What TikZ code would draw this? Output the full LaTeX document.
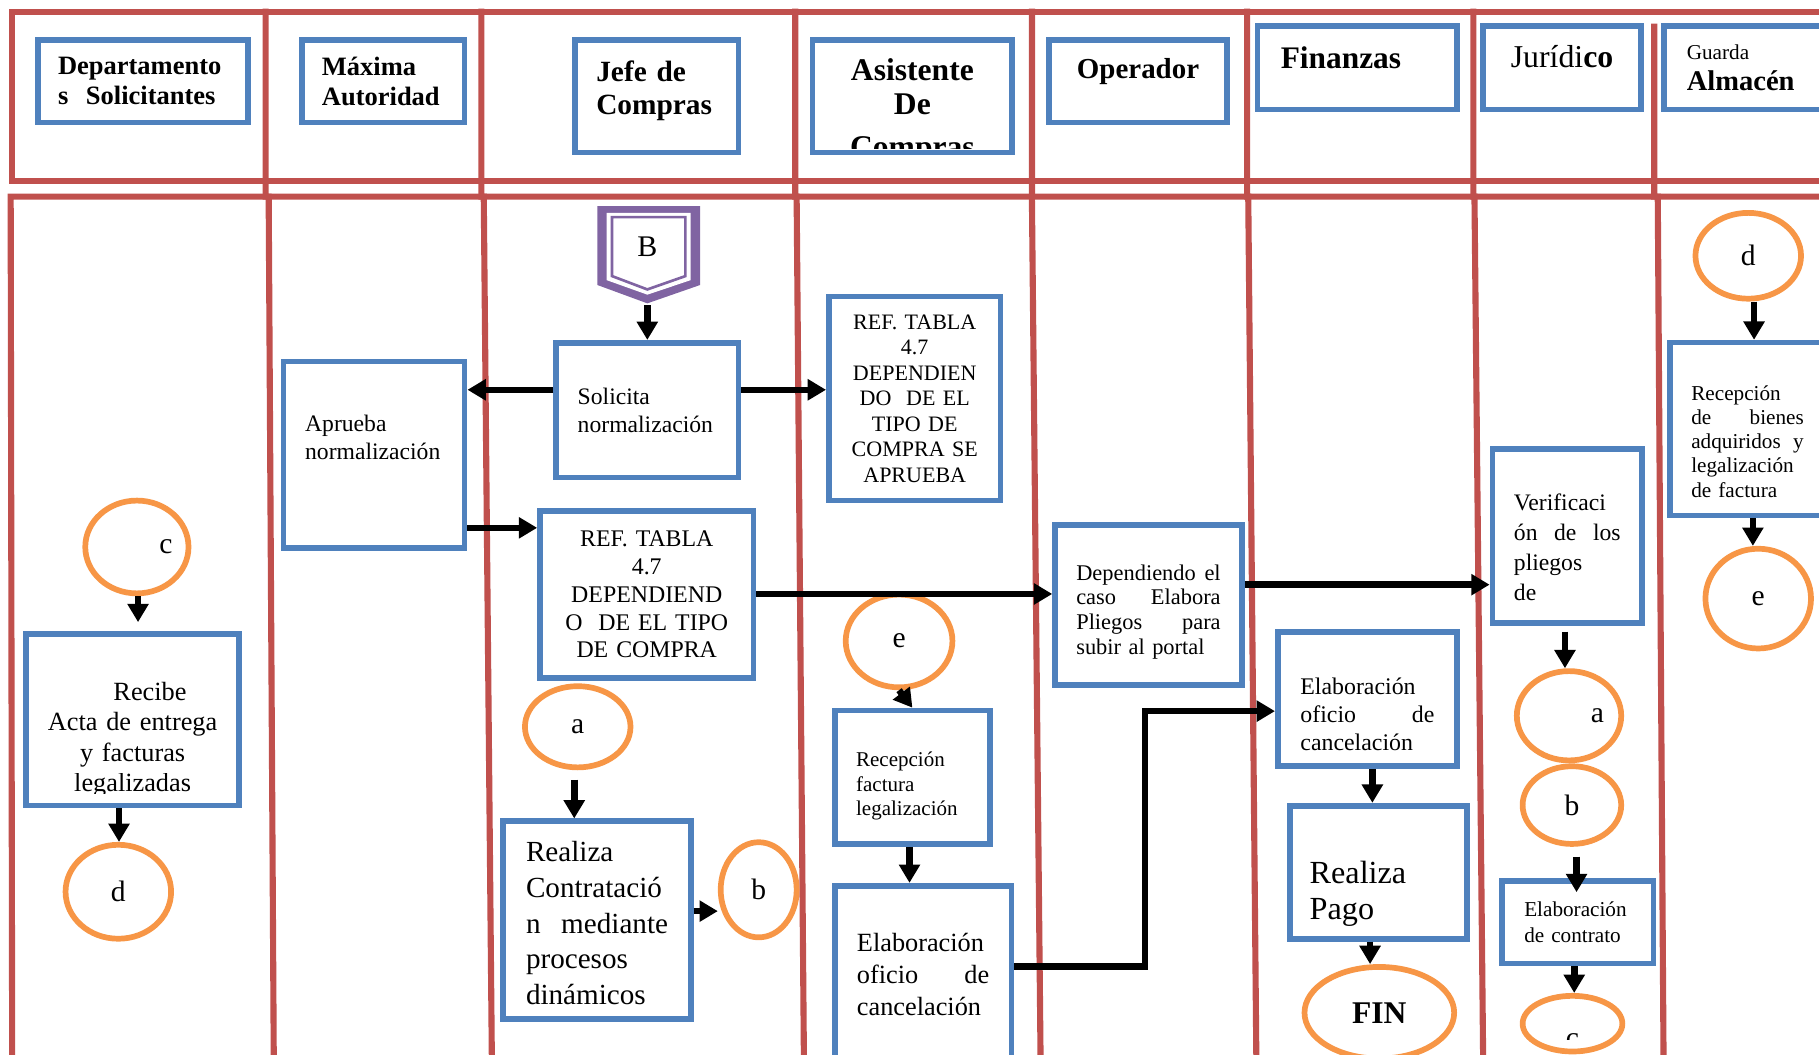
\documentclass[tikz,border=0pt]{standalone}
\usepackage{fontspec}
\setmainfont{Liberation Serif}
\usepackage{trimclip}
\usepackage{xcolor}
\usepackage{tikz}
\usetikzlibrary{shapes.geometric,arrows.meta,positioning,calc}

\definecolor{redC}{HTML}{C0504D}
\definecolor{blueC}{HTML}{4F81BD}
\definecolor{orangeC}{HTML}{F79646}
\definecolor{purpleC}{HTML}{8064A2}
\newcommand{\fsz}[2]{\fontsize{#1}{#2}\selectfont}

\begin{document}
\begin{tikzpicture}[
    x=0.02cm, y=-0.02cm,
    lane/.style={draw=redC, line width=3pt, line cap=rect},
    hdr/.style={rectangle, draw=blueC, fill=white, line width=2.8pt, inner sep=0pt, align=center},
    proc/.style={rectangle, draw=blueC, fill=white, line width=2.8pt, inner sep=0pt, align=left},
    conn/.style={ellipse, draw=orangeC, fill=white, line width=2.8pt, inner sep=0pt, font=\fsz{14.5}{16}},
    sz/.style 2 args={minimum width=#1*0.02cm, minimum height=#2*0.02cm},
    arr/.style={-{Triangle[length=9pt, width=10pt]}, line width=3.2pt, draw=black}
]
    \useasboundingbox (0,0) rectangle (1568,909);
    \clip (0,0) rectangle (1568,909);

    \draw [lane] (1600,10) -- (10,10) -- (10,156.3) -- (1600,156.3);
    \draw [lane] (1600,169.5) -- (9.2,169.5) -- (10.5,915);
    \foreach \xa/\xb/\xc in {229/231.6/236, 415/417/424, 685.5/686.7/693, 889.6/889.5/897, 1075/1076/1083, 1270/1271/1278.5}
        \draw [lane] (\xa,10) -- (\xa,169.5) (\xb,169.5) -- (\xc,915);
    \draw [lane] (1426,23) -- (1426,169.5) (1429,169.5) -- (1434,915);

    \node [hdr, sz={181}{71}, text width=2.92cm, align=left, font=\bfseries\fsz{13}{14.7}] (h1) at (123,70) {Departamento\\s\ \ Solicitantes};
    \node [hdr, sz={140}{71}, text width=2.12cm, align=left, font=\bfseries\fsz{13}{14.7}] (h2) at (330.5,70) {Máxima\\Autoridad};
    \node [hdr, sz={141}{97}, text width=2.08cm, align=left, text depth=0.85cm, font=\bfseries\fsz{14.4}{16.2}] (h3) at (566,83) {Jefe de\\Compras};
    \node [hdr, sz={172}{97}, text width=3.2cm, text height=0.64cm, font=\bfseries\fsz{15.5}{16.7}] (h4) at (786.5,83) {Asistente\\De\\\clipbox{0pt 0.47em 0pt 0pt}{Compras}};
    \node [hdr, sz={153}{71}, text depth=0.43cm, font=\bfseries\fsz{14.2}{16}] (h5) at (981,70) {Operador};
    \node [hdr, sz={172}{72}, text width=2.64cm, align=left, text depth=0.37cm, font=\bfseries\fsz{15.4}{17}] (h6) at (1170,58.5) {Finanzas};
    \node [hdr, sz={136}{72}, text depth=0.38cm, font=\fsz{15.6}{17}] (h7) at (1346.5,58.5) {Jurídi\textbf{co}};
    \node [hdr, sz={163}{72}, text width=2.48cm, align=left, font=\fsz{14}{15.6}] (h8) at (1516,58.5) {{\fsz{10.4}{12}Guarda}\\\textbf{Almacén}};

    \fill [purpleC] (515,177.6) -- (603.4,177.6) -- (603.4,245.7) -- (558,261.5) -- (515,245.7) -- cycle;
    \fill [white] (523,183.5) -- (595.4,183.5) -- (595.4,241.5) -- (558,254) -- (523,241.5) -- cycle;
    \draw [purpleC, line width=1.3pt] (527.6,187.2) -- (590.8,187.2) -- (590.8,238) -- (558,249.5) -- (527.6,238) -- cycle;
    \node [font=\fsz{14.7}{16}] (B) at (558,212.5) {B};
    \coordinate (Bbot) at (558,263);

    \node [proc, sz={157}{116}, text width=2.4cm, font=\fsz{11.6}{13.6}] (n1) at (558,353.5) {Solicita\\normalización};
    \node [proc, sz={156}{161}, text width=2.38cm, text depth=1.08cm, font=\fsz{11.6}{13.6}] (n2) at (322.5,392) {Aprueba\\normalización};
    \node [proc, sz={148}{176}, text width=2.6cm, align=center, font=\fsz{10.8}{12.5}] (n3) at (788.5,343.5) {REF. TABLA\\4.7\\DEPENDIEN\\DO\ \ DE EL\\TIPO DE\\COMPRA SE\\APRUEBA};
    \node [proc, sz={184}{144}, text width=3.2cm, align=center, font=\fsz{11.7}{13.6}] (n4) at (557.5,512.5) {REF. TABLA\\4.7\\DEPENDIEND\\O\ \ DE EL TIPO\\DE COMPRA};
    \node [proc, sz={161}{138}, text width=2.49cm, text height=0.51cm, font=\fsz{11}{12.2}] (n5) at (990,521.5) {Dependiendo\hfill el\\caso\hfill Elabora\\Pliegos\hfill para\\subir al portal};
    \node [proc, sz={129}{150}, text width=1.84cm, text height=0.67cm, font=\fsz{11.6}{14.7}] (n6) at (1351,462) {Verificaci\\ón\hfill de\hfill los\\pliegos\\de};
    \node [proc, sz={134}{149}, text width=1.94cm, text height=0.68cm, font=\fsz{10.4}{11.9}] (n7) at (1506.4,369.85) {Recepción\\de\hfill bienes\\adquiridos\hfill y\\legalización\\de factura};
    \node [proc, sz={134}{115}, text width=1.94cm, text height=0.56cm, font=\fsz{10.3}{11.9}] (n8) at (786.5,670) {Recepción\\factura\\legalización};
    \node [proc, sz={152.4}{153}, text width=2.28cm, font=\fsz{12.9}{15.5}] (n9) at (795.7,840) {Elaboración\\oficio\hfill de\\cancelación};
    \node [proc, sz={154.4}{115.5}, text width=2.31cm, text height=0.81cm, font=\fsz{11.7}{13.6}] (n10) at (1178.7,602.75) {Elaboración\\oficio\hfill de\\cancelación};
    \node [proc, sz={152.6}{114.8}, text width=2.37cm, text height=1.13cm, font=\fsz{15.8}{17.9}] (n11) at (1188.2,751.9) {Realiza\\Pago};
    \node [proc, sz={130.8}{71}, text width=1.84cm, font=\fsz{10.4}{12.5}] (n12) at (1359.9,795) {Elaboración\\de contrato};
    \node [proc, sz={183.6}{148}, text width=3cm, align=center, text height=0.94cm, font=\fsz{12.9}{15}] (n13) at (114.3,620.25) {\hspace*{0.6cm}Recibe\\Acta de entrega\\y facturas\\\clipbox{0pt 0.15em 0pt 0pt}{legalizadas}};
    \node [proc, sz={161.7}{170.2}, text width=2.45cm, text height=0.46cm, font=\fsz{14.3}{17.5}] (n14) at (514.65,793.1) {Realiza\\Contratació\\n\hfill mediante\\procesos\\dinámicos};

    \node [conn, sz={89}{80}] (c1) at (118,471.5) {\hspace*{1cm}c};
    \node [conn, sz={91}{81}] (d1) at (102,768.7) {d};
    \node [conn, sz={91}{70}] (a1) at (498,626.5) {a};
    \node [conn, sz={65.5}{82}] (b1) at (654,767) {b};
    \node [conn, sz={92}{80}] (e1) at (775,552.5) {e};
    \node [conn, sz={129}{79}, font=\bfseries\fsz{15.5}{17}] (f1) at (1189,873) {FIN};
    \node [conn, sz={90}{77}] (a2) at (1352.5,617) {\hspace*{0.98cm}a};
    \node [conn, sz={85}{67}] (b2) at (1355,694) {b};
    \node [conn, sz={86}{48}, text height=0.55cm] (c2) at (1355.5,882.4) {\clipbox{0pt 0.26em 0pt 0pt}{c}};
    \node [conn, sz={91}{74}] (d2) at (1507,220.5) {d};
    \node [conn, sz={91}{86}] (e2) at (1515.6,516) {e};

    \draw [arr] (Bbot) -- (n1.north);
    \draw [arr] (n1.west |- 0,336) -- (n2.east |- 0,336);
    \draw [arr] (n1.east |- 0,336) -- (n3.west |- 0,336);
    \draw [arr] (n2.east |- 0,455) -- (n4.west |- 0,455);
    \draw [arr] (n4.east |- 0,512) -- (n5.west |- 0,512);
    \draw [arr] (n5.east |- 0,504) -- (n6.west |- 0,504);
    \draw [arr] (d2.south -| 1512,0) -- (n7.north -| 1512,0);
    \draw [arr] (n7.south -| 1511,0) -- (e2.north -| 1511,0);
    \draw [arr, shorten <=0.1cm] (n6.south -| 1349,0) -- (a2.north -| 1349,0);
    \draw [arr, shorten <=0.17cm, shorten >=-0.24cm] (b2.south -| 1359,0) -- (n12.north -| 1359,0);
    \draw [arr] (n12.south -| 1357,0) -- (c2.north -| 1357,0);
    \draw [arr, shorten >=0.15cm] (c1.south -| 119,0) -- (n13.north -| 119,0);
    \draw [arr] (n13.south -| 102.6,0) -- (d1.north -| 102.6,0);
    \draw [arr, shorten <=0.16cm] (a1.south -| 495,0) -- (n14.north -| 495,0);
    \draw [arr] (n14.east |- 0,785.4) -- (b1.west |- 0,785.4);
    \draw [arr] (e1.south) -- (n8.north);
    \draw [arr] (n8.south -| 784,0) -- (n9.north -| 784,0);
    \draw [arr] (n9.east |- 0,833) -- (987,833) |- (n10.west |- 0,613);
    \draw [arr] (n10.south -| 1183,0) -- (n11.north -| 1183,0);
    \draw [arr] (n11.south -| 1181,0) -- (f1.north -| 1181,0);
\end{tikzpicture}
\end{document}
